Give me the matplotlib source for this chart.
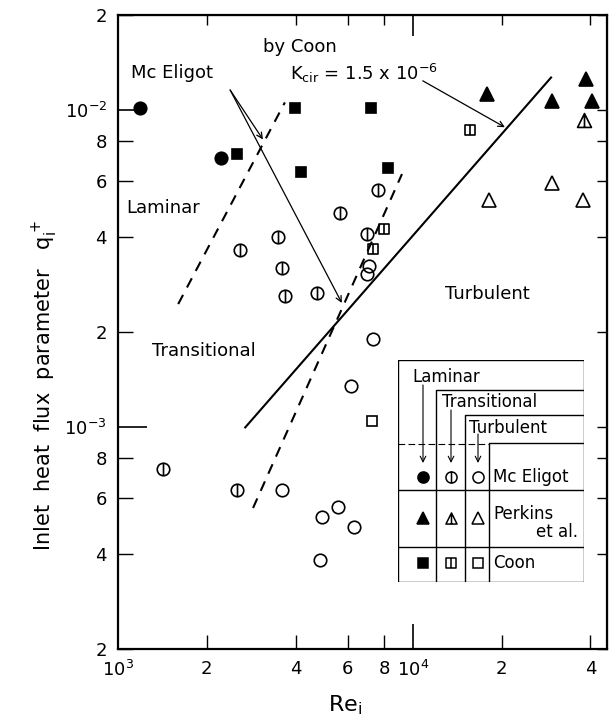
import matplotlib
matplotlib.use("Agg")
import matplotlib.pyplot as plt
from matplotlib.path import Path
from matplotlib.ticker import FixedLocator, FixedFormatter

plt.rcParams['font.family'] = ['DejaVu Sans']
plt.rcParams['mathtext.default'] = 'regular'

# Datos (Re_i, q_i+)
mce_lam_re = [1190, 2230]
mce_lam_q = [1.02e-2, 7.1e-3]
mce_tr_re = [1420, 2530, 2600, 3480, 3590, 3680, 4730, 5660, 6980, 7600]
mce_tr_q = [7.4e-4, 6.35e-4, 3.64e-3, 4.0e-3, 3.18e-3, 2.59e-3, 2.65e-3, 4.75e-3, 4.08e-3, 5.6e-3]
mce_tu_re = [3590, 4840, 4920, 5570, 6170, 6310, 7310, 7090, 6980]
mce_tu_q = [6.35e-4, 3.83e-4, 5.22e-4, 5.61e-4, 1.355e-3, 4.86e-4, 1.9e-3, 3.24e-3, 3.04e-3]

per_lam_re = [1.78e4, 2.96e4, 3.86e4, 4.05e4]
per_lam_q = [1.13e-2, 1.07e-2, 1.26e-2, 1.07e-2]
per_tr_re = [3.8e4]
per_tr_q = [9.3e-3]
per_tu_re = [1.81e4, 2.96e4, 3.77e4]
per_tu_q = [5.22e-3, 5.9e-3, 5.22e-3]

coon_lam_re = [2530, 3980, 4170, 7210, 8230]
coon_lam_q = [7.27e-3, 1.02e-2, 6.4e-3, 1.02e-2, 6.58e-3]
coon_tr_re = [1.56e4, 7980, 7310]
coon_tr_q = [8.7e-3, 4.24e-3, 3.66e-3]
coon_tu_re = [7260]
coon_tu_q = [1.05e-3]

# Lineas de transicion
lam_tr_re = [1600, 3680]
lam_tr_q = [2.45e-3, 1.06e-2]
tr_tu_re = [2870, 9180]
tr_tu_q = [5.57e-4, 6.3e-3]
coon_k_re = [2700, 2.94e4]
coon_k_q = [1.0e-3, 1.27e-2]

# Ticks
x_major = [1e3, 1e4]
x_major_lab = ['$10^3$', '$10^4$']
x_minor = [2e3, 4e3, 6e3, 8e3, 2e4, 4e4]
x_minor_lab = ['2', '4', '6', '8', '2', '4']
y_major = [1e-3, 1e-2]
y_major_lab = ['$10^{-3}$', '$10^{-2}$']
y_minor = [2e-4, 4e-4, 6e-4, 8e-4, 2e-3, 4e-3, 6e-3, 8e-3, 2e-2]
y_minor_lab = ['2', '4', '6', '8', '2', '4', '6', '8', '2']

# Marcadores con barra vertical (transicional)
vbar = Path([[0, -1], [0, 1]], [Path.MOVETO, Path.LINETO])
circ_bar = Path.make_compound_path(Path.unit_circle(), vbar)
tri = Path([[0, 1], [-1, -1], [1, -1], [0, 1]],
           [Path.MOVETO, Path.LINETO, Path.LINETO, Path.CLOSEPOLY])
tri_bar = Path.make_compound_path(tri, Path([[0, -1], [0, 0.7]], [Path.MOVETO, Path.LINETO]))
sq = Path([[-1, -1], [1, -1], [1, 1], [-1, 1], [-1, -1]],
          [Path.MOVETO, Path.LINETO, Path.LINETO, Path.LINETO, Path.CLOSEPOLY])
sq_bar = Path.make_compound_path(sq, vbar)

W, H = 612, 728
fig = plt.figure(figsize=(W / 100, H / 100), dpi=100)
ax = fig.add_axes([118 / W, 1 - 649 / H, (607 - 118) / W, (649 - 15) / H])
ax.set_xscale('log')
ax.set_yscale('log')
ax.set_xlim(1e3, 4.55e4)
ax.set_ylim(2e-4, 2e-2)
for s in ax.spines.values():
    s.set_linewidth(1.6)

k = dict(color='black', linestyle='none', mew=1.2)
ax.plot(mce_lam_re, mce_lam_q, marker='o', ms=9, **k)
ax.plot(mce_tr_re, mce_tr_q, marker=circ_bar, ms=9, mfc='none', **k)
ax.plot(mce_tu_re, mce_tu_q, marker='o', ms=9, mfc='none', **k)
ax.plot(per_lam_re, per_lam_q, marker='^', ms=10, **k)
ax.plot(per_tr_re, per_tr_q, marker=tri_bar, ms=10, mfc='none', **k)
ax.plot(per_tu_re, per_tu_q, marker='^', ms=10, mfc='none', **k)
ax.plot(coon_lam_re, coon_lam_q, marker='s', ms=7.5, **k)
ax.plot(coon_tr_re, coon_tr_q, marker=sq_bar, ms=7.5, mfc='none', **k)
ax.plot(coon_tu_re, coon_tu_q, marker='s', ms=7.5, mfc='none', **k)

ax.plot(lam_tr_re, lam_tr_q, color='black', lw=1.5, linestyle=(0, (5, 4)))
ax.plot(tr_tu_re, tr_tu_q, color='black', lw=1.5, linestyle=(0, (5, 4)))
ax.plot(coon_k_re, coon_k_q, color='black', lw=1.5)

# Anotaciones
arr = dict(arrowstyle='->', color='black', lw=0.9, shrinkA=0, shrinkB=0)
ax.annotate('', xy=(3100, 8.1e-3), xytext=(2400, 1.16e-2), arrowprops=arr)
ax.annotate('', xy=(5740, 2.47e-3), xytext=(2400, 1.16e-2), arrowprops=arr)
ax.annotate('', xy=(2.05e4, 8.85e-3), xytext=(1.08e4, 1.24e-2), arrowprops=arr)
ax.text(1520, 1.31e-2, 'Mc Eligot', fontsize=13, ha='center', va='center')
ax.text(3100, 1.59e-2, 'by Coon', fontsize=13, ha='left', va='center')
ax.text(3830, 1.31e-2, '$K_{cir}$ = 1.5 x $10^{-6}$', fontsize=13, ha='left', va='center')
ax.text(1070, 4.93e-3, 'Laminar', fontsize=13, ha='left', va='center')
ax.text(1300, 1.74e-3, 'Transitional', fontsize=13, ha='left', va='center')
ax.text(1.28e4, 2.63e-3, 'Turbulent', fontsize=13, ha='left', va='center')

# Ejes
ax.xaxis.set_major_locator(FixedLocator(x_major))
ax.xaxis.set_major_formatter(FixedFormatter(x_major_lab))
ax.xaxis.set_minor_locator(FixedLocator(x_minor))
ax.xaxis.set_minor_formatter(FixedFormatter(x_minor_lab))
ax.yaxis.set_major_locator(FixedLocator(y_major))
ax.yaxis.set_major_formatter(FixedFormatter(y_major_lab))
ax.yaxis.set_minor_locator(FixedLocator(y_minor))
ax.yaxis.set_minor_formatter(FixedFormatter(y_minor_lab))
ax.tick_params(axis='x', which='major', direction='in', length=18, width=1.2, labelsize=13, pad=8)
ax.tick_params(axis='x', which='minor', direction='in', length=10, width=1.0, labelsize=13, pad=8)
ax.tick_params(axis='y', which='major', direction='in', length=21, width=1.2, labelsize=13, pad=8)
ax.tick_params(axis='y', which='minor', direction='in', length=11, width=1.0, labelsize=13, pad=8)

top = ax.secondary_xaxis('top')
top.xaxis.set_major_locator(FixedLocator(x_major))
top.xaxis.set_minor_locator(FixedLocator(x_minor))
top.tick_params(which='major', direction='in', length=15, width=1.2, labeltop=False)
top.tick_params(which='minor', direction='in', length=7, width=1.0, labeltop=False)
right = ax.secondary_yaxis('right')
right.yaxis.set_major_locator(FixedLocator(y_major))
right.yaxis.set_minor_locator(FixedLocator(y_minor))
right.tick_params(which='both', direction='in', length=7.5, width=1.0, labelright=False)

fig.text(45 / W, 1 - 386 / H, 'Inlet  heat  flux  parameter   $q_i^+$', rotation=90,
         fontsize=15, ha='center', va='center')
fig.text(345 / W, 1 - 705 / H, '$Re_i$', fontsize=16, ha='center', va='center')

# Tabla de leyenda (coordenadas en pixeles)
tab = fig.add_axes([398 / W, 1 - 582 / H, (584 - 398) / W, (582 - 360) / H])
tab.set_xlim(398, 584)
tab.set_ylim(582, 360)
tab.axis('off')
L = dict(color='black', lw=1.0)
tab.plot([398, 584, 584, 398, 398], [360, 360, 582, 582, 360], **L)
tab.plot([436, 436, 584], [582, 390, 390], **L)
tab.plot([465, 465, 584], [582, 415, 415], **L)
tab.plot([489, 489, 584], [582, 443, 443], **L)
tab.plot([398, 489], [444, 444], color='black', lw=0.8, linestyle=(0, (6, 3)))
tab.plot([398, 584], [490, 490], **L)
tab.plot([398, 584], [547, 547], **L)
ta = dict(arrowstyle='->', color='black', lw=0.8, shrinkA=0, shrinkB=0)
tab.annotate('', xy=(423, 463), xytext=(423, 385), arrowprops=ta)
tab.annotate('', xy=(451, 463), xytext=(451, 410), arrowprops=ta)
tab.annotate('', xy=(478, 463), xytext=(478, 434), arrowprops=ta)
tab.text(412, 377, 'Laminar', fontsize=12, va='center')
tab.text(442, 402, 'Transitional', fontsize=12, va='center')
tab.text(469, 428, 'Turbulent', fontsize=12, va='center')
tab.text(493, 477, 'Mc Eligot', fontsize=12, va='center')
tab.text(493, 514, 'Perkins', fontsize=12, va='center')
tab.text(578, 532, 'et al.', fontsize=12, va='center', ha='right')
tab.text(493, 563, 'Coon', fontsize=12, va='center')
m = dict(color='black', linestyle='none', mew=1.1)
tab.plot([423], [477], marker='o', ms=8, **m)
tab.plot([451], [477], marker=circ_bar, ms=8, mfc='none', **m)
tab.plot([478], [477], marker='o', ms=8, mfc='none', **m)
tab.plot([423], [518], marker='^', ms=8, **m)
tab.plot([451], [518], marker=tri_bar, ms=8, mfc='none', **m)
tab.plot([478], [518], marker='^', ms=8, mfc='none', **m)
tab.plot([423], [563], marker='s', ms=6.5, **m)
tab.plot([451], [563], marker=sq_bar, ms=6.5, mfc='none', **m)
tab.plot([478], [563], marker='s', ms=6.5, mfc='none', **m)

fig.savefig('out.png', dpi=100)
